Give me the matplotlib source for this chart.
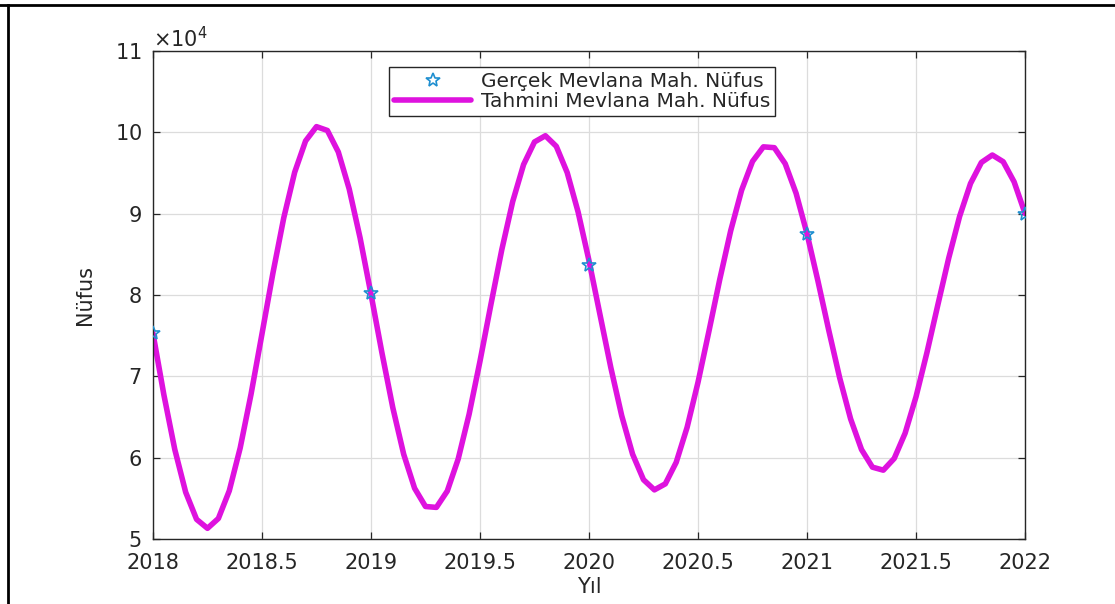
import matplotlib
matplotlib.use("Agg")
import matplotlib.pyplot as plt
from matplotlib.lines import Line2D
import numpy as np

plt.rcParams['font.family'] = ['DejaVu Sans']

# actual population (stars)
real_years = [2018, 2019, 2020, 2021, 2022]
real_pop = [75300, 80200, 83700, 87500, 90000]

# predicted curve, every 0.05 year from 2018 to 2022
curve_pop = [
    75277, 67726, 61012, 55751, 52418, 51313, 52524, 55927, 61194, 67829,
    75216, 82668, 89502, 95093, 98940, 100698, 100227, 97588, 93041, 87022,
    80100, 72921, 66153, 60419, 56242, 53999, 53886, 55899, 59839, 65332,
    71863, 78823, 85571, 91489, 96041, 98817, 99581, 98279, 95050, 90208,
    84216, 77637, 71086, 65168, 60425, 57290, 56041, 56781, 59427, 63724,
    69264, 75530, 81940, 87906, 92884, 96423, 98215, 98111, 96139, 92497,
    87540, 81737, 75635, 69798, 64766, 60998, 58834, 58462, 59902, 63009,
    67486, 72908, 78771, 84534, 89669, 93710, 96299, 97211, 96383, 93906,
    90028,
]
curve_years = np.linspace(2018, 2022, len(curve_pop))

x_ticks = [2018, 2018.5, 2019, 2019.5, 2020, 2020.5, 2021, 2021.5, 2022]
x_labels = ['2018', '2018.5', '2019', '2019.5', '2020', '2020.5', '2021', '2021.5', '2022']
y_ticks = [50000, 60000, 70000, 80000, 90000, 100000, 110000]

txt = '#262626'

fig = plt.figure(figsize=(11.15, 6.04), dpi=100)
ax = fig.add_axes([0.1372, 0.1076, 0.7821, 0.808])

ax.plot(real_years, real_pop, linestyle='none', marker='*', markersize=10,
        markerfacecolor='none', markeredgecolor='#1f8fd0', markeredgewidth=1.2,
        label='Gerçek Mevlana Mah. Nüfus', zorder=3)
ax.plot(curve_years, curve_pop, color='#de12de', linewidth=4,
        solid_joinstyle='round', solid_capstyle='round',
        label='Tahmini Mevlana Mah. Nüfus', zorder=2)

ax.set_xlim(2018, 2022)
ax.set_ylim(50000, 110000)
ax.set_xticks(x_ticks)
ax.set_xticklabels(x_labels)
ax.set_yticks(y_ticks)
ax.ticklabel_format(axis='y', style='sci', scilimits=(4, 4), useMathText=True)
ax.yaxis.get_offset_text().set_fontsize(15)
ax.yaxis.get_offset_text().set_color(txt)

ax.grid(True, color='#dcdcdc', linewidth=0.9)
ax.set_axisbelow(True)
ax.tick_params(direction='in', length=5, width=0.9, top=True, right=True,
               labelsize=15, colors=txt)
ax.tick_params(axis='x', pad=10)
ax.tick_params(axis='y', pad=8)
for s in ax.spines.values():
    s.set_color(txt)
    s.set_linewidth(1.0)

ax.set_xlabel('Yıl', fontsize=15, color=txt, labelpad=3)
ax.set_ylabel('Nüfus', fontsize=15, color=txt, labelpad=14)

leg = ax.legend(loc='upper center', bbox_to_anchor=(0.4925, 0.967), fontsize=14.5,
                frameon=True, fancybox=False, framealpha=1, edgecolor='#262626',
                handlelength=3.8, handletextpad=0.5, labelspacing=0.05,
                borderpad=0.25, borderaxespad=0)
leg.get_frame().set_linewidth(1.0)
for t in leg.get_texts():
    t.set_color(txt)

# page frame around the figure
fig.add_artist(Line2D([0, 1], [1 - 5 / 604, 1 - 5 / 604], transform=fig.transFigure,
                      color='black', linewidth=2))
fig.add_artist(Line2D([8 / 1115, 8 / 1115], [0, 1 - 5 / 604], transform=fig.transFigure,
                      color='black', linewidth=2))

fig.savefig('out.png', dpi=100)
